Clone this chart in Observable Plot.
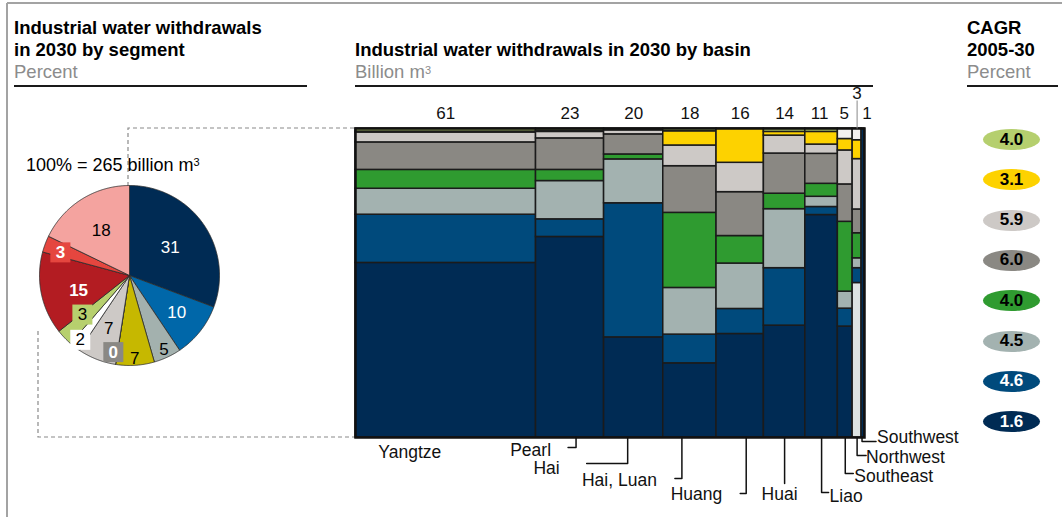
<!DOCTYPE html>
<html><head><meta charset="utf-8">
<script src="https://cdn.jsdelivr.net/npm/d3@7"></script>
<script src="https://cdn.jsdelivr.net/npm/@observablehq/plot@0.6"></script>
<style>
body{margin:0;background:#fff;font-family:"Liberation Sans",Arial,sans-serif;}
#root{position:relative;width:1062px;height:517px;overflow:hidden;background:#fff;}
.abs{position:absolute;}
.t{font-weight:bold;font-size:18.5px;line-height:22px;color:#000;white-space:nowrap;}
.sub{color:#8c8c8c;font-weight:normal;}
.rule{position:absolute;height:2px;background:#1a1a1a;}
.leg{position:absolute;width:57px;height:21px;border-radius:50%;display:flex;align-items:center;justify-content:center;font-weight:bold;font-size:17px;}
svg{overflow:visible;}
</style></head><body><div id="root"></div>
<script>
// ---------- DATA ----------
const basins = ["Yangtze","Pearl","Hai","Hai, Luan","Huang","Huai","Liao","Southeast","Northwest","Southwest"];
const basinTotals = [61,23,20,18,16,14,11,5,3,1];
// segment shares within each basin (percent), bottom to top
const otherBottomShare = [0,0,0,0,0,0,0,0,50.0,0];
const navyShare       = [56.5,64.9,32.4,24.0,33.5,36.2,72.0,35.9,0,100];
const blueShare       = [15.6,5.7,43.4,9.3,8.1,18.6,2.6,5.8,4.8,0];
const tealShare       = [8.4,12.4,14.2,15.1,14.7,19.1,3.3,5.5,3.2,0];
const greenShare      = [6.1,3.6,1.6,24.3,8.9,5.0,4.2,22.6,8.1,0];
const grayShare       = [8.9,10.2,6.5,15.1,14.2,13.0,9.7,12.1,7.7,0];
const lightGrayShare  = [3.2,2.1,1.3,6.7,9.5,5.8,3.0,11.0,16.3,0];
const yellowShare     = [0.3,0.4,0,4.6,11.1,1.2,4.1,3.7,6.1,0];
const lightGreenShare = [1.0,0.7,0.6,0.9,0,1.1,1.1,0,0,0];
const otherTopShare   = [0,0,0,0,0,0,0,3.4,3.8,0];
const stackKeys = ["Other (bottom)","CAGR 1.6","CAGR 4.6","CAGR 4.5","CAGR 4.0 (green)","CAGR 6.0","CAGR 5.9","CAGR 3.1","CAGR 4.0 (light green)","Other (top)"];
const stackShares = [otherBottomShare,navyShare,blueShare,tealShare,greenShare,grayShare,lightGrayShare,yellowShare,lightGreenShare,otherTopShare];
// legend (top to bottom)
const cagrLabels = ["4.0","3.1","5.9","6.0","4.0","4.5","4.6","1.6"];
const cagrKeys = ["CAGR 4.0 (light green)","CAGR 3.1","CAGR 5.9","CAGR 6.0","CAGR 4.0 (green)","CAGR 4.5","CAGR 4.6","CAGR 1.6"];
// pie (clockwise from 12 o'clock)
const pieSegments = ["s1","s2","s3","s4","s5","s6","s7","s8","s9","s10","s11"];
const pieValues = [31,10,5,7,0,7,2,3,15,3,18];
const pieTotal = "100% = 265 billion m";

// ---------- STYLES / LAYOUT ----------
const stackColors = ["#dde3e3","#002b54","#004a7c","#a3b2b0","#2f9b30","#8a8883","#cdc9c6","#fdd200","#b5cf6e","#f3f0ee"];
const pieColors = ["#002b54","#0067a9","#a3b1ae","#c6b800","#8a8884","#cdc9c6","#ffffff","#b7d06e","#b31c22","#e5463f","#f4a39f"];
const pieLabelR = [0.55,0.67,0.91,0.92,0.87,0.63,0.9,0.68,0.59,0.81,0.59];
const pieLabelDA = [0,0,0,0,3,0,0,4,-5,-2,0];
const pieBoxed = [0,0,0,0,1,0,1,1,0,1,0];
const pieTextColor = ["#fff","#fff","#000","#000","#fff","#000","#000","#000","#fff","#fff","#000"];
const pieBold = [0,0,0,0,1,0,0,0,1,1,0];
const legendText = ["#000","#000","#000","#000","#000","#000","#fff","#fff"];
const M = {left:355,right:864,top:128,bottom:437};
const topRise  = [15,15,15,15,15,15,15,15,35,15];
const topShift = [0,0,0,0,0,0,-2,-1,0,4];
// bottom labels: leader dx from column centre, drop, hook, text dx (from column centre), text dy, anchor
const botLayout = [
  {dx:0,drop:0,hook:0,tx:-36,ty:15,a:"middle"},
  {dx:6,drop:10,hook:-8,tx:-19,ty:13,a:"end"},
  {dx:-6,drop:26,hook:-41,tx:-74,ty:31,a:"end"},
  {dx:-8,drop:41,hook:-7,tx:-33,ty:43,a:"end"},
  {dx:6,drop:56,hook:-6,tx:-18,ty:57,a:"end"},
  {dx:0,drop:46,hook:0,tx:-5,ty:57,a:"middle"},
  {dx:0,drop:55,hook:7,tx:8,ty:59,a:"start"},
  {dx:0,drop:36,hook:8,tx:9,ty:39,a:"start"},
  {dx:0,drop:18,hook:9,tx:9,ty:20,a:"start"},
  {dx:-1,drop:4,hook:14,tx:14,ty:0,a:"start"}
];
const FONT = '"Liberation Sans", Arial, sans-serif';

const root = document.getElementById("root");
function html(s){root.insertAdjacentHTML("beforeend", s);}

// frame + dashed connectors (decorative)
html(`<svg class="abs" style="left:0;top:0" width="1062" height="517">
<line x1="7" y1="3" x2="1062" y2="3" stroke="#a3a3a3" stroke-width="2"/>
<line x1="7" y1="3" x2="7" y2="517" stroke="#a3a3a3" stroke-width="2"/>
<polyline points="128,186 128,128 355,128" fill="none" stroke="#8a8a8a" stroke-width="1.2" stroke-dasharray="4,3"/>
<polyline points="38,331 38,437 355,437" fill="none" stroke="#8a8a8a" stroke-width="1.2" stroke-dasharray="4,3"/>
</svg>`);

// titles
html(`<div class="abs t" style="left:14px;top:17px">Industrial water withdrawals<br>in 2030 by segment<br><span class="sub">Percent</span></div>`);
html(`<div class="rule" style="left:14px;top:85px;width:293px"></div>`);
html(`<div class="abs t" style="left:355px;top:39px">Industrial water withdrawals in 2030 by basin<br><span class="sub">Billion m<span style="font-size:11px;vertical-align:top;line-height:18px">3</span></span></div>`);
html(`<div class="rule" style="left:355px;top:85px;width:518px"></div>`);
html(`<div class="abs t" style="left:967px;top:17px">CAGR<br>2005-30<br><span class="sub">Percent</span></div>`);
html(`<div class="rule" style="left:967px;top:85px;width:91px"></div>`);
html(`<div class="abs" style="left:26px;top:154px;font-size:18px;line-height:22px;white-space:nowrap;background:transparent">${pieTotal}<span style="font-size:11px;vertical-align:top;line-height:16px">3</span></div>`);

// ---------- PIE ----------
const pieSum = d3.sum(pieValues);
const piePts = [], pieLab = [];
let acc = 0;
pieValues.forEach((v,i)=>{
  const a0 = acc/pieSum*360, a1 = (acc+v)/pieSum*360; acc += v;
  const seg = pieSegments[i];
  piePts.push({seg,x:0,y:0});
  const n = Math.max(1, Math.ceil((a1-a0)/0.5));
  for(let k=0;k<=n;k++){const a=(a0+(a1-a0)*k/n)*Math.PI/180; piePts.push({seg,x:Math.sin(a),y:Math.cos(a)});}
  piePts.push({seg,x:0,y:0});
  const am = ((a0+a1)/2 + pieLabelDA[i])*Math.PI/180, r = pieLabelR[i];
  pieLab.push({seg,x:r*Math.sin(am),y:r*Math.cos(am),label:String(Math.round(v)),boxed:pieBoxed[i],col:pieTextColor[i],bold:pieBold[i]});
});
const pieTextMarks = [];
for (const col of ["#fff","#000"]) for (const b of [0,1]) {
  pieTextMarks.push(Plot.text(pieLab.filter(d=>d.col===col&&d.bold===b),{x:"x",y:"y",text:"label",fill:col,fontSize:17,fontWeight:b?"bold":"normal",fontFamily:FONT}));
}
const pie = Plot.plot({
  width:200,height:200,margin:10,
  x:{domain:[-1,1],axis:null},y:{domain:[-1,1],axis:null},
  color:{domain:pieSegments,range:pieColors},
  style:{background:"transparent",overflow:"visible",fontFamily:FONT},
  marks:[
    Plot.line(piePts,{x:"x",y:"y",z:"seg",fill:"seg",stroke:"#2b2b2b",strokeWidth:0.8,curve:"linear"}),
    Plot.dot(pieLab.filter(d=>d.boxed),{x:"x",y:"y",fill:"seg",symbol:"square",r:11.3}),
    ...pieTextMarks
  ]
});
pie.classList.add("abs"); pie.style.left="29px"; pie.style.top="175px";
root.appendChild(pie);

// ---------- MEKKO ----------
const totalSum = d3.sum(basinTotals);
const pxX = px => px*totalSum/(M.right-M.left);
const pxY = px => px*100/(M.bottom-M.top);
const cols = []; let cx = 0;
basins.forEach((b,i)=>{cols.push({basin:b,total:basinTotals[i],x1:cx,x2:cx+basinTotals[i],mid:cx+basinTotals[i]/2,i}); cx+=basinTotals[i];});
const rects = [];
cols.forEach(c=>{
  let y=0;
  stackKeys.forEach((k,j)=>{const s=stackShares[j][c.i]; if(s>0){rects.push({basin:c.basin,seg:k,x1:c.x1,x2:c.x2,y1:y,y2:y+s}); y+=s;}});
});
const topLab = cols.map(c=>({x:c.mid+pxX(topShift[c.i]),y:100+pxY(topRise[c.i]),label:String(c.total)}));
const topLead = cols.filter(c=>topRise[c.i]>20).map(c=>({x:c.mid,y1:100,y2:100+pxY(topRise[c.i]-7)}));
const leadPts = [], botLab = [];
cols.forEach(c=>{
  const L = botLayout[c.i], lx = c.mid+pxX(L.dx);
  if(L.drop>0){
    leadPts.push({basin:c.basin,x:lx,y:0},{basin:c.basin,x:lx,y:-pxY(L.drop)});
    if(L.hook) leadPts.push({basin:c.basin,x:lx+pxX(L.hook),y:-pxY(L.drop)});
  }
  botLab.push({x:c.mid+pxX(L.tx),y:-pxY(L.ty),label:c.basin,a:L.a});
});
const mekko = Plot.plot({
  width:1062,height:517,
  marginLeft:M.left,marginRight:1062-M.right,marginTop:M.top,marginBottom:517-M.bottom,
  x:{domain:[0,totalSum],axis:null},y:{domain:[0,100],axis:null},
  color:{domain:stackKeys,range:stackColors},
  style:{background:"transparent",overflow:"visible",fontFamily:FONT},
  marks:[
    Plot.rect(rects,{x1:"x1",x2:"x2",y1:"y1",y2:"y2",fill:"seg",stroke:"#1b1b1b",strokeWidth:1.5}),
    Plot.frame({stroke:"#111",strokeWidth:2.5}),
    Plot.text(topLab,{x:"x",y:"y",text:"label",fontSize:17,fill:"#111"}),
    Plot.link(topLead,{x1:"x",x2:"x",y1:"y1",y2:"y2",stroke:"#888",strokeWidth:1}),
    Plot.line(leadPts,{x:"x",y:"y",z:"basin",stroke:"#111",strokeWidth:1.5}),
    ...["start","middle","end"].map(a=>Plot.text(botLab.filter(d=>d.a===a),{x:"x",y:"y",text:"label",textAnchor:a,fontSize:17.5,fill:"#111"}))
  ]
});
mekko.classList.add("abs"); mekko.style.left="0px"; mekko.style.top="0px";
root.appendChild(mekko);

// ---------- LEGEND ----------
cagrKeys.forEach((k,i)=>{
  const col = stackColors[stackKeys.indexOf(k)];
  html(`<div class="leg" style="left:983px;top:${129+i*40.3}px;background:${col};color:${legendText[i]}">${cagrLabels[i]}</div>`);
});
</script></body></html>
